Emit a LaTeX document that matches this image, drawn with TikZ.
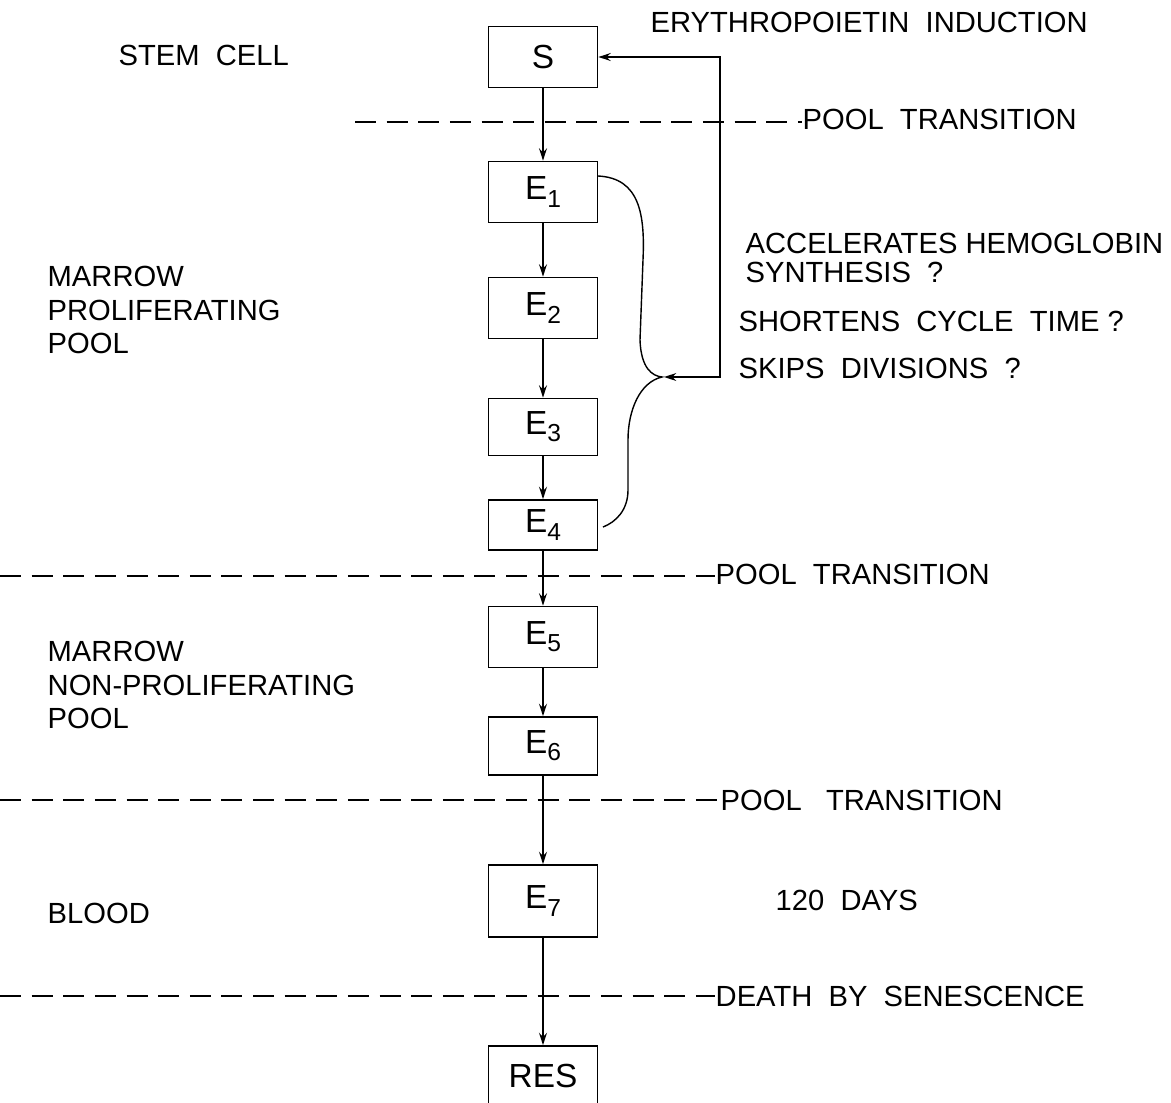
\documentclass[tikz,border=0pt]{standalone}
\usepackage{fontspec}
\setmainfont{Liberation Sans}
\usetikzlibrary{arrows.meta}
\newcommand{\esub}[1]{\raisebox{-0.4ex}{\fontsize{14}{14}\selectfont #1}}

\begin{document}
\begin{tikzpicture}[x=0.02cm, y=-0.02cm, >={Stealth[length=7pt,width=4.5pt]},
  font=\fontsize{16.6}{19}\selectfont, line width=0.8pt,
  cell/.style={draw, line width=1pt, minimum width=2.18cm, minimum height=1.22cm, inner sep=0pt,
    font=\fontsize{19}{21}\selectfont},
  lbl/.style={anchor=west, inner sep=0pt, align=left},
  pool/.style={dash pattern=on 12pt off 6pt, line width=0.8pt}]
\useasboundingbox (0,0) rectangle (1171,1103);
% cells of the erythroid chain
\node[cell] (S) at (543,57) {S};
\node[cell] (E1) at (543,192) {E\esub{1}};
\node[cell] (E2) at (543,308) {E\esub{2}};
\node[cell, minimum height=1.14cm] (E3) at (543,427) {E\esub{3}};
\node[cell, minimum height=1.0cm] (E4) at (543,525) {E\esub{4}};
\node[cell] (E5) at (543,637) {E\esub{5}};
\node[cell, minimum height=1.16cm] (E6) at (543,746) {E\esub{6}};
\node[cell, minimum height=1.44cm] (E7) at (543,901) {E\esub{7}};
\node[cell, minimum height=1.2cm] (RES) at (543,1076) {RES};
\draw[->] (S) -- (E1); \draw[->] (E1) -- (E2); \draw[->] (E2) -- (E3);
\draw[->] (E3) -- (E4); \draw[->] (E4) -- (E5); \draw[->] (E5) -- (E6);
\draw[->] (E6) -- (E7); \draw[->] (E7) -- (RES);
% pool labels on the left
\node[lbl] (stem) at (118,55) {STEM\ \ CELL};
\node[lbl] (prol) at (47,310) {MARROW\\PROLIFERATING\\POOL};
\node[lbl] (nonprol) at (47,685) {MARROW\\NON-PROLIFERATING\\POOL};
\node[lbl] (blood) at (47,913) {BLOOD};
% transitions
\node[lbl] (tr1) at (802,119) {POOL\ \ TRANSITION};
\node[lbl] (tr2) at (715,574) {POOL\ \ TRANSITION};
\node[lbl] (tr3) at (720,800) {POOL\ \ \ TRANSITION};
\node[lbl] (death) at (715,996) {DEATH\ \ BY\ \ SENESCENCE};
\coordinate (d1) at (355,122); \coordinate (d2) at (0,576);
\coordinate (d3) at (0,800); \coordinate (d4) at (0,996);
\draw[pool] (d1) -- (tr1.west |- d1);
\draw[pool] (d2) -- (tr2.west |- d2);
\draw[pool] (d3) -- (tr3.west |- d3);
\draw[pool] (d4) -- (death.west |- d4);
% erythropoietin feedback
\node[lbl] (epo) at (650,22) {ERYTHROPOIETIN\ \ INDUCTION};
\node[lbl] (acc) at (745,258) {ACCELERATES\ HEMOGLOBIN\\[-3pt]SYNTHESIS\ \ ?};
\node[lbl] (short) at (738,321) {SHORTENS\ \ CYCLE\ \ TIME\ ?};
\node[lbl] (skip) at (738,368) {SKIPS\ \ DIVISIONS\ \ ?};
\coordinate (corner) at (720,377);
\coordinate (tip) at (664,377);
\draw[<->] (S.east) -| (corner) -- (tip);
\draw (598,176) .. controls (640,178) and (645,215) .. (643,260)
  -- (640,340) .. controls (641,368) and (652,376) .. (662,377)
  .. controls (640,382) and (628,410) .. (628,440) -- (628,490)
  .. controls (628,510) and (616,522) .. (603,527);
% lifespan
\node[lbl] (days) at (775,900) {120\ \ DAYS};
\end{tikzpicture}
\end{document}
